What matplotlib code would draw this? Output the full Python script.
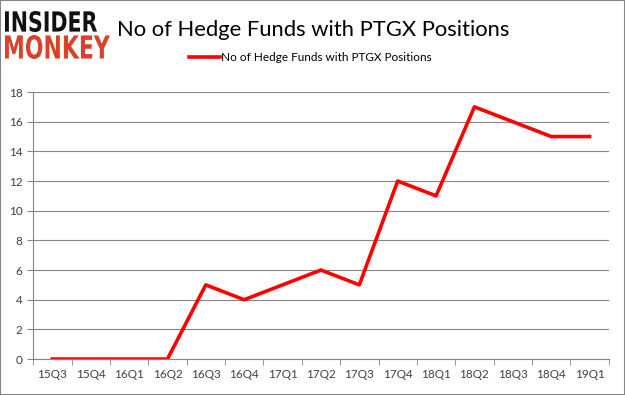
import matplotlib.pyplot as plt
from matplotlib.patches import Rectangle, PathPatch
from matplotlib.textpath import TextPath
from matplotlib.font_manager import FontProperties
from matplotlib.transforms import Affine2D, IdentityTransform

plt.rcParams['font.family'] = ['Lato', 'DejaVu Sans']

quarters = ['15Q3', '15Q4', '16Q1', '16Q2', '16Q3', '16Q4', '17Q1', '17Q2',
            '17Q3', '17Q4', '18Q1', '18Q2', '18Q3', '18Q4', '19Q1']
funds = [0, 0, 0, 0, 5, 4, 5, 6, 5, 12, 11, 17, 16, 15, 15]
series_name = 'No of Hedge Funds with PTGX Positions'

fig = plt.figure(figsize=(6.25, 3.95), dpi=100)
ax = fig.add_axes([0.053, 0.091, 0.921, 0.676])

x = list(range(len(quarters)))
ax.plot(x, funds, color='#ff0000', linewidth=2.6, label=series_name)

ax.set_xlim(-0.5, len(quarters) - 0.5)
ax.set_ylim(0, 18)
ax.set_yticks(range(0, 19, 2))
ax.set_xticks(x)
ax.set_xticklabels(quarters)
ax.set_xticks([i - 0.5 for i in range(len(quarters) + 1)], minor=True)
ax.tick_params(axis='x', which='major', length=0, pad=7, labelsize=8.5, colors='#404040')
ax.tick_params(axis='x', which='minor', length=4, color='#868686')
ax.tick_params(axis='y', length=4, color='#868686', labelsize=8.5, colors='#404040')
ax.yaxis.grid(True, color='#868686', linewidth=0.8)
ax.set_axisbelow(True)
for side in ['top', 'right']:
    ax.spines[side].set_visible(False)
for side in ['left', 'bottom']:
    ax.spines[side].set_color('#868686')

ax.legend(loc='lower center', bbox_to_anchor=(0.482, 1.07), frameon=False,
          fontsize=8.5, handlelength=2.6, handletextpad=0.1)

fig.text(0.187, 0.924, 'No of Hedge Funds with PTGX Positions', fontsize=15.8,
         va='center', ha='left', color='black')


# logo text squeezed into a pixel box (x0, y0, x1, y1), origin bottom-left
def logo_word(word, box, color):
    tp = TextPath((0, 0), word, size=20,
                  prop=FontProperties(family='DejaVu Sans', weight='bold'))
    ext = tp.get_extents()
    sx = (box[2] - box[0]) / ext.width
    sy = (box[3] - box[1]) / ext.height
    tr = Affine2D().translate(-ext.x0, -ext.y0).scale(sx, sy).translate(box[0], box[1])
    fig.patches.append(PathPatch(tr.transform_path(tp), transform=IdentityTransform(),
                                 facecolor=color, edgecolor='none'))


logo_word('INSIDER', (5, 363, 97, 384), '#111111')
logo_word('MONKEY', (5, 336, 110, 360), '#d9412b')

fig.patches.append(Rectangle((0, 0), 1, 1, transform=fig.transFigure, fill=False,
                             edgecolor='#868686', linewidth=1.5))

fig.savefig('out.png', dpi=100)
